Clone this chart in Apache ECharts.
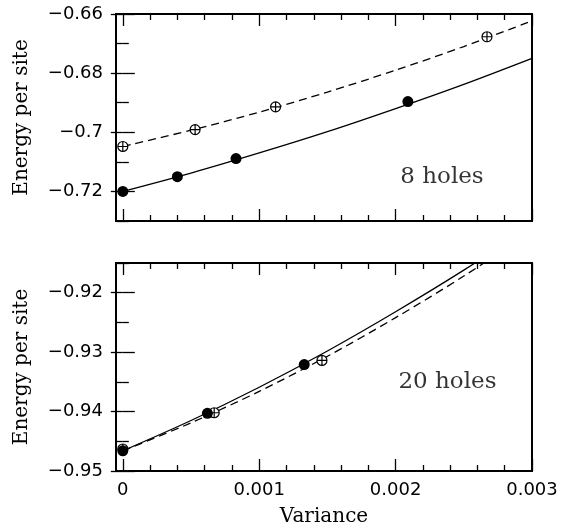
<!DOCTYPE html>
<html><head><meta charset="utf-8">
<script src="https://cdn.jsdelivr.net/npm/echarts@6/dist/echarts.min.js"></script>
<style>html,body{margin:0;padding:0;background:#fff}#c{width:561px;height:529px}</style>
</head><body><div id="c"></div>
<script>
// tick values
const xMajor = [0, 0.001, 0.002, 0.003];
const xMinor = [0.0002,0.0004,0.0006,0.0008,0.0012,0.0014,0.0016,0.0018,0.0022,0.0024,0.0026,0.0028];
const yTopMajor = [-0.72, -0.70, -0.68, -0.66];
const yTopMinor = [-0.73, -0.71, -0.69, -0.67];
const yBotMajor = [-0.95, -0.94, -0.93, -0.92];
const yBotMinor = [-0.945, -0.935, -0.925, -0.915];

// 8 holes
const h8FilledX = [0, 0.0004, 0.00083, 0.00209];
const h8FilledY = [-0.7200, -0.7150, -0.7089, -0.6896];
const h8OpenX = [0, 0.00053, 0.00112, 0.00267];
const h8OpenY = [-0.7048, -0.6991, -0.6914, -0.6677];
const fitX = [0, 0.0005, 0.001, 0.0015, 0.002, 0.0025, 0.003];
const h8SolidFit = [-0.7200, -0.7138, -0.7070, -0.6998, -0.6920, -0.6838, -0.6750];
const h8DashedFit = [-0.7048, -0.6993, -0.6932, -0.6864, -0.6790, -0.6710, -0.6623];

// 20 holes
const h20FilledX = [0, 0.00062, 0.00133];
const h20FilledY = [-0.9466, -0.9403, -0.9321];
const h20OpenX = [0, 0.00067, 0.00146];
const h20OpenY = [-0.9463, -0.9402, -0.9314];
const h20SolidFit = [-0.9466, -0.9415, -0.9359, -0.9298, -0.9232, -0.9162, -0.9087];
const h20DashedFit = [-0.9466, -0.9419, -0.9366, -0.9307, -0.9242, -0.9172, -0.9096];

const titles = ['Energy per site', 'Variance'];
const notes = ['8 holes', '20 holes'];
const notePos = [[0.00234, -0.7152], [0.00238, -0.9351]];

const zip = (xs, ys) => xs.map((x, i) => [x, ys[i]]);
const SANS = 'DejaVu Sans', SERIF = 'DejaVu Serif';
const fmtX = v => Math.abs(v) < 1e-12 ? '0' : (+v).toFixed(3);
const fmtY = v => '\u2212' + String(parseFloat(Math.abs(v).toFixed(3)));

function xAxes(grid, showLabels) {
  const xr = {min: -0.00005, max: 0.003};
  const base = (pos, vals, len, labels) => Object.assign({
    type: 'value', gridIndex: grid, position: pos, ...xr,
    axisLine: {show: false}, splitLine: {show: false},
    axisTick: {show: true, inside: true, length: len, customValues: vals, lineStyle: {color: '#000', width: 1.3}},
    axisLabel: labels ? {show: true, customValues: xMajor, formatter: fmtX, color: '#000', fontFamily: SANS, fontSize: 18, margin: 10} : {show: false}
  }, labels ? {name: titles[1], nameLocation: 'middle', nameGap: 36, nameTextStyle: {fontFamily: SERIF, fontSize: 20, color: '#000'}} : {});
  return [base('bottom', xMajor, 12, showLabels), base('bottom', xMinor, 6, false),
          base('top', xMajor, 12, false), base('top', xMinor, 6, false)];
}
function yAxes(grid, min, max, major, minor) {
  const base = (pos, vals, len, labels) => Object.assign({
    type: 'value', gridIndex: grid, position: pos, min: min, max: max,
    axisLine: {show: false}, splitLine: {show: false},
    axisTick: {show: true, inside: true, length: len, customValues: vals, lineStyle: {color: '#000', width: 1.3}},
    axisLabel: labels ? {show: true, customValues: major, formatter: fmtY, color: '#000', fontFamily: SANS, fontSize: 18, margin: 13} : {show: false}
  }, labels ? {name: titles[0], nameLocation: 'middle', nameGap: 84, nameRotate: 90, nameTextStyle: {fontFamily: SERIF, fontSize: 20, color: '#000'}} : {});
  return [base('left', major, 12, true), base('left', minor, 6, false),
          base('right', major, 12, false), base('right', minor, 6, false)];
}

const openSym = 'path://M10,0A10,10,0,1,1,-10,0A10,10,0,1,1,10,0ZM-10,0L10,0M0,-10L0,10';
function markers(xi, data, open) {
  return {type: 'scatter', xAxisIndex: xi, yAxisIndex: xi, data: data, silent: true,
    symbol: open ? openSym : 'circle', symbolSize: open ? 10 : 11, symbolKeepAspect: true,
    z: open ? 3 : 4,
    itemStyle: open ? {color: '#fff', borderColor: '#000', borderWidth: 1.2, opacity: 1} : {color: '#000', opacity: 1}};
}
function fitLine(xi, ys, dashed) {
  return {type: 'line', xAxisIndex: xi, yAxisIndex: xi, data: zip(fitX, ys), smooth: 0.3,
    showSymbol: false, silent: true, clip: true, z: 2,
    lineStyle: {color: '#000', width: 1.3, type: dashed ? [8, 5] : 'solid'}};
}
function note(xi, txt, pos) {
  return {type: 'scatter', xAxisIndex: xi, yAxisIndex: xi, data: [pos], symbolSize: 0, silent: true,
    label: {show: true, position: 'inside', formatter: txt, color: '#000', fontFamily: SERIF, fontSize: 23}};
}

const chart = echarts.init(document.getElementById('c'), null, {renderer: 'canvas'});
chart.setOption({
  animation: false,
  backgroundColor: '#fff',
  grid: [
    {left: 116, top: 14, width: 416, height: 207, show: true, borderColor: '#000', borderWidth: 2, backgroundColor: 'transparent'},
    {left: 116, top: 263, width: 416, height: 208, show: true, borderColor: '#000', borderWidth: 2, backgroundColor: 'transparent'}
  ],
  xAxis: [...xAxes(0, false), ...xAxes(1, true)],
  yAxis: [...yAxes(0, -0.73, -0.66, yTopMajor, yTopMinor), ...yAxes(1, -0.95, -0.915, yBotMajor, yBotMinor)],
  series: [
    fitLine(0, h8SolidFit, false), fitLine(0, h8DashedFit, true),
    markers(0, zip(h8OpenX, h8OpenY), true), markers(0, zip(h8FilledX, h8FilledY), false),
    note(0, notes[0], notePos[0]),
    fitLine(4, h20SolidFit, false), fitLine(4, h20DashedFit, true),
    markers(4, zip(h20OpenX, h20OpenY), true), markers(4, zip(h20FilledX, h20FilledY), false),
    note(4, notes[1], notePos[1])
  ]
});
</script></body></html>
